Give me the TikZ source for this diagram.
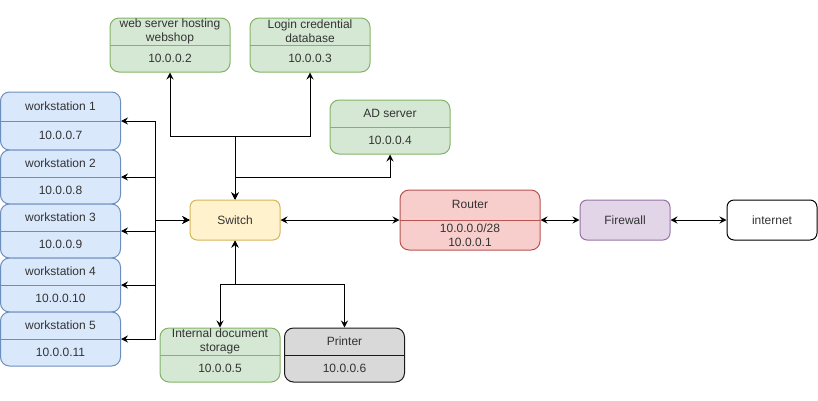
\documentclass[tikz,border=0pt]{standalone}
\usepackage{fontspec}
\setmainfont{Liberation Sans}
\usetikzlibrary{arrows.meta, calc}
\definecolor{bluefill}{HTML}{DAE8FC}
\definecolor{blueline}{HTML}{6C8EBF}
\definecolor{greenfill}{HTML}{D5E8D4}
\definecolor{greenline}{HTML}{82B366}
\definecolor{yellowfill}{HTML}{FFF2CC}
\definecolor{yellowline}{HTML}{D6B656}
\definecolor{redfill}{HTML}{F8CECC}
\definecolor{redline}{HTML}{B85450}
\definecolor{purplefill}{HTML}{E1D5E7}
\definecolor{purpleline}{HTML}{9673A6}
\definecolor{grayfill}{HTML}{D9D9D9}
\definecolor{grayline}{HTML}{1A1A1A}
\definecolor{textcol}{HTML}{333333}
\tikzstyle{box} = [rectangle, rounded corners=7pt, line width=1pt, minimum width=90pt, minimum height=40pt, inner sep=0pt, text=textcol, font=\fontsize{12}{14}\selectfont, align=center]
\tikzset{split/.style={box, minimum width=120pt, minimum height=54pt, rounded corners=9pt, draw=#1, path picture={\draw[line width=1pt, #1] (path picture bounding box.west) -- (path picture bounding box.east);}}}
\tikzstyle{workstation} = [split=blueline, fill=bluefill]
\tikzstyle{server} = [split=greenline, fill=greenfill]
\tikzstyle{txt} = [inner sep=0pt, text=textcol, font=\fontsize{12}{14}\selectfont, align=center]
\tikzstyle{arrow} = [line width=1pt, {Stealth[length=7pt, width=7pt, inset=2.5pt]}-{Stealth[length=7pt, width=7pt, inset=2.5pt]}]

\begin{document}
\begin{tikzpicture}[x=1pt, y=-1pt]
\useasboundingbox (0,0) rectangle (818,400);

% workstations
\node at (60.5, 121) (ws1) [workstation, minimum height=58pt] {};
\foreach \i/\y in {2/177, 3/231, 4/285, 5/339}
  \node at (60.5, \y) (ws\i) [workstation] {};
\foreach \i/\ip in {1/10.0.0.7, 2/10.0.0.8, 3/10.0.0.9, 4/10.0.0.10, 5/10.0.0.11} {
  \node at ($(ws\i.north)!0.5!(ws\i.center)$) [txt] {workstation \i};
  \node at ($(ws\i.south)!0.5!(ws\i.center)$) [txt] {\ip};
}

% servers
\node at (170, 45) (web) [server] {};
\node at ($(web.north)!0.5!(web.center)$) [txt] {web server hosting\\webshop};
\node at ($(web.south)!0.5!(web.center)$) [txt] {10.0.0.2};
\node at (310, 45) (login) [server] {};
\node at ($(login.north)!0.5!(login.center)$) [txt] {Login credential\\database};
\node at ($(login.south)!0.5!(login.center)$) [txt] {10.0.0.3};
\node at (390, 127) (ad) [server] {};
\node at ($(ad.north)!0.5!(ad.center)$) [txt] {AD server};
\node at ($(ad.south)!0.5!(ad.center)$) [txt] {10.0.0.4};
\node at (220, 355) (doc) [server] {};
\node at ($(doc.north)!0.5!(doc.center)$) [txt] {Internal document\\storage};
\node at ($(doc.south)!0.5!(doc.center)$) [txt] {10.0.0.5};
\node at (344.5, 355) (printer) [split=grayline, fill=grayfill] {};
\node at ($(printer.north)!0.5!(printer.center)$) [txt] {Printer};
\node at ($(printer.south)!0.5!(printer.center)$) [txt] {10.0.0.6};

% core
\node at (235, 220) (switch) [box, draw=yellowline, fill=yellowfill] {Switch};
\node at (470, 220) (router) [split=redline, minimum width=140pt, minimum height=60pt, fill=redfill] {};
\node at ($(router.north)!0.5!(router.center)$) [txt] {Router};
\node at ($(router.south)!0.5!(router.center)$) [txt] {10.0.0.0/28\\10.0.0.1};
\node at (625, 220) (firewall) [box, draw=purpleline, fill=purplefill] {Firewall};
\node at (772, 220) (internet) [box, draw=black, fill=white] {internet};

% connectors
\coordinate (wsbus) at (155, 220);
\coordinate (topbus) at (235, 136);
\coordinate (adjoin) at (235, 177);
\coordinate (botbus) at (235, 284);

\foreach \i in {1,...,5}
  \draw [arrow] (switch.west) -- (wsbus) |- (ws\i.east);
\draw [arrow] (switch.north) -- (topbus) -| (web.south);
\draw [arrow] (switch.north) -- (topbus) -| (login.south);
\draw [arrow] (switch.north) -- (adjoin) -| (ad.south);
\draw [arrow] (switch.south) -- (botbus) -| (doc.north);
\draw [arrow] (switch.south) -- (botbus) -| (printer.north);
\draw [arrow] (switch) -- (router);
\draw [arrow] (router) -- (firewall);
\draw [arrow] (firewall) -- (internet);

\end{tikzpicture}
\end{document}
